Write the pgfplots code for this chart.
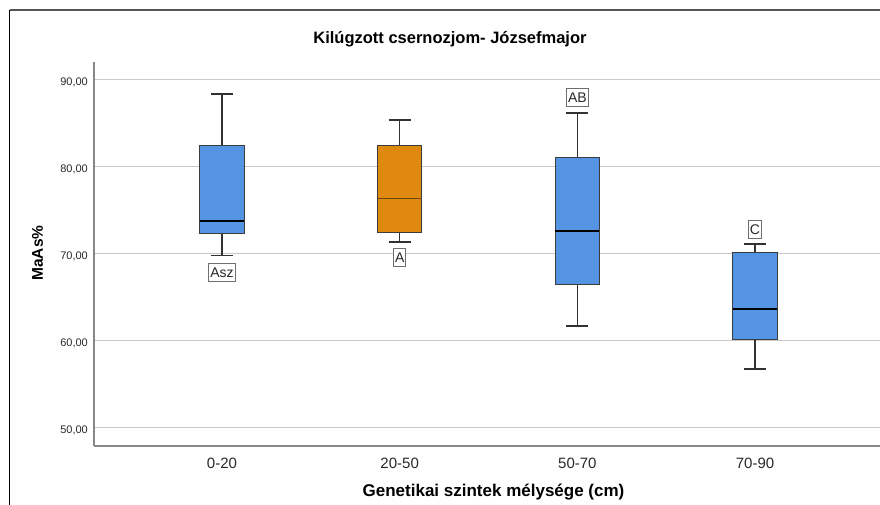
\documentclass[border=0pt]{standalone}
\usepackage{fontspec}
\setmainfont{Liberation Sans}
\usepackage{pgfplots}
\pgfplotsset{compat=1.18}

\definecolor{boxblue}{RGB}{84,148,226}
\definecolor{boxorange}{RGB}{224,137,16}
\definecolor{boxedge}{RGB}{60,60,60}
\definecolor{whiskergray}{RGB}{50,50,50}
\definecolor{axisgray}{RGB}{135,135,135}
\definecolor{gridgray}{RGB}{200,200,200}
\definecolor{textgray}{RGB}{40,40,40}
\definecolor{lblgray}{RGB}{110,110,110}
\definecolor{framegray}{RGB}{85,85,85}
\definecolor{medbrown}{RGB}{110,70,10}

\tikzset{lbl/.style={draw=lblgray, fill=white, line width=1pt, text=textgray,
    font=\fontsize{14}{15}\selectfont, inner xsep=1.5pt, inner ysep=4pt,
    text height=10pt, text depth=0pt}}

% box half-width 0.124, whisker cap half-width 0.062 (x units)
\begin{document}
\begin{tikzpicture}
\useasboundingbox (0pt,0pt) rectangle (880pt,505pt);
% chart frame
\draw[black,line width=1.3pt] (9.5pt,0pt) -- (9.5pt,495pt);
\draw[framegray,line width=1.6pt] (9.5pt,495pt) -- (880pt,495pt);
\begin{axis}[
  at={(94pt,59pt)}, anchor=south west,
  scale only axis, width=786pt, height=384pt,
  xmin=-0.7204, xmax=3.7035, ymin=47.93, ymax=92.07,
  axis x line*=bottom, axis y line*=left,
  axis line style={draw=axisgray, line width=1.3pt, -},
  xtick={0,1,2,3}, xticklabels={0-20,20-50,50-70,70-90},
  ytick={50,60,70,80,90},
  major tick length=0pt,
  ymajorgrids, grid style={gridgray, line width=1pt},
  yticklabel={\pgfmathprintnumber[fixed,fixed zerofill,precision=2,use comma,assume math mode=true]{\tick}},
  yticklabel style={font=\fontsize{11}{12}\selectfont, text=textgray, anchor=base east, inner sep=0pt, xshift=-6pt, yshift=-6pt},
  xticklabel style={font=\fontsize{15}{16}\selectfont, text=textgray, anchor=base, yshift=-22.3pt},
  title={Kilúgzott csernozjom- Józsefmajor},
  title style={at={(axis description cs:0.4529,1.03125)}, anchor=base, font=\fontsize{16.5}{18}\selectfont\bfseries},
  xlabel={Genetikai szintek mélysége (cm)},
  xlabel style={at={(axis description cs:0.5083,-0.1328)}, anchor=base, font=\fontsize{17}{18}\selectfont\bfseries},
  ylabel={MaAs\%},
  ylabel style={at={(axis description cs:-0.0649,0.5026)}, anchor=base, rotate=0, font=\fontsize{15.5}{17}\selectfont\bfseries},
  unbounded coords=jump,
  whisker/.style={draw=whiskergray, line width=1.3pt, mark=none},
  box/.style={draw=boxedge, line width=1pt, mark=none},
]
% ---- 0-20: whiskers 69.85 / 88.39, quartiles 72.30 / 82.49, median 73.76
\addplot[whisker] coordinates {(0,72.30) (0,69.85) (nan,nan) (-0.062,69.85) (0.062,69.85) (nan,nan)
  (0,82.49) (0,88.39) (nan,nan) (-0.062,88.39) (0.062,88.39)};
\addplot[box, fill=boxblue] coordinates {(-0.124,72.30) (0.124,72.30) (0.124,82.49) (-0.124,82.49)} -- cycle;
\addplot[draw=black, line width=2.2pt] coordinates {(-0.124,73.76) (0.124,73.76)};
% ---- 20-50: whiskers 71.38 / 85.40, quartiles 72.49 / 82.49, median 76.36
\addplot[whisker] coordinates {(1,72.49) (1,71.38) (nan,nan) (0.938,71.38) (1.062,71.38) (nan,nan)
  (1,82.49) (1,85.40) (nan,nan) (0.938,85.40) (1.062,85.40)};
\addplot[box, fill=boxorange] coordinates {(0.876,72.49) (1.124,72.49) (1.124,82.49) (0.876,82.49)} -- cycle;
\addplot[draw=medbrown, line width=1.6pt] coordinates {(0.876,76.36) (1.124,76.36)};
% ---- 50-70: whiskers 61.72 / 86.21, quartiles 66.44 / 81.11, median 72.64
\addplot[whisker] coordinates {(2,66.44) (2,61.72) (nan,nan) (1.938,61.72) (2.062,61.72) (nan,nan)
  (2,81.11) (2,86.21) (nan,nan) (1.938,86.21) (2.062,86.21)};
\addplot[box, fill=boxblue] coordinates {(1.876,66.44) (2.124,66.44) (2.124,81.11) (1.876,81.11)} -- cycle;
\addplot[draw=black, line width=1.8pt] coordinates {(1.876,72.64) (2.124,72.64)};
% ---- 70-90: whiskers 56.78 / 71.15, quartiles 60.19 / 70.19, median 63.68
\addplot[whisker] coordinates {(3,60.19) (3,56.78) (nan,nan) (2.938,56.78) (3.062,56.78) (nan,nan)
  (3,70.19) (3,71.15) (nan,nan) (2.938,71.15) (3.062,71.15)};
\addplot[box, fill=boxblue] coordinates {(2.876,60.19) (3.124,60.19) (3.124,70.19) (2.876,70.19)} -- cycle;
\addplot[draw=black, line width=1.8pt] coordinates {(2.876,63.68) (3.124,63.68)};
% significance letters
\node[lbl] at (axis cs:0,67.93) {Asz};
\node[lbl] at (axis cs:1,69.57) {A};
\node[lbl] at (axis cs:2,87.99) {AB};
\node[lbl] at (axis cs:3,72.87) {C};
\end{axis}
\end{tikzpicture}
\end{document}
